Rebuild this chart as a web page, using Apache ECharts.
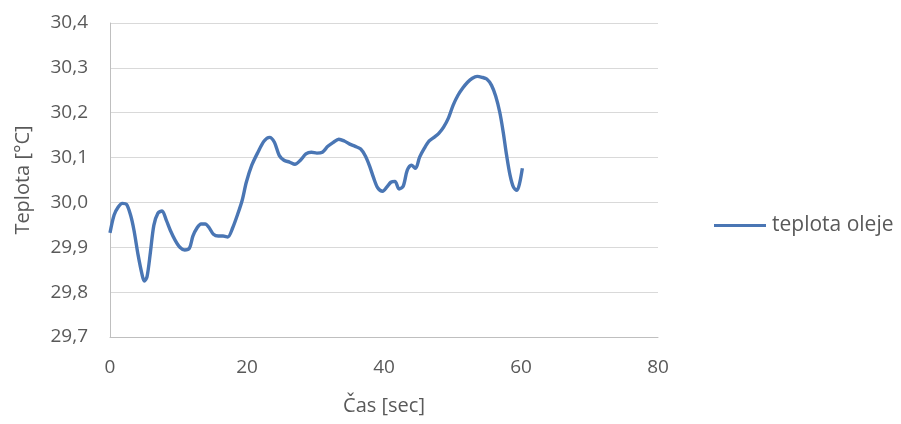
<!DOCTYPE html>
<html>
<head>
<meta charset="utf-8">
<script src="https://cdn.jsdelivr.net/npm/echarts@6/dist/echarts.min.js"></script>
<style>
html,body{margin:0;padding:0;background:#fff;}
#c{width:901px;height:424px;}
</style>
</head>
<body>
<div id="c"></div>
<script>
var timeSec = [0,0.6,1.2,1.8,2.4,3.0,3.5,4.1,4.7,5.0,5.4,5.9,6.4,7.0,7.6,8.2,8.8,9.5,10.2,10.9,11.6,12.1,12.7,13.3,13.9,14.5,15.1,15.8,16.5,17.2,17.9,18.6,19.3,19.9,20.7,21.6,22.5,23.3,24.0,24.7,25.4,26.2,27.0,27.8,28.6,29.4,30.2,31.0,31.8,32.6,33.4,34.2,35.0,35.8,36.6,37.3,37.9,38.5,39.1,39.8,40.4,41.0,41.6,42.2,42.8,43.4,44.0,44.6,45.2,45.9,46.6,47.3,48.0,48.7,49.4,50.1,50.8,51.5,52.2,52.9,53.6,54.3,55.0,55.7,56.3,56.9,57.4,57.9,58.4,58.9,59.4,59.8,60.2];
var teplotaOleje = [29.932,29.972,29.99,29.998,29.996,29.972,29.938,29.883,29.838,29.825,29.834,29.889,29.949,29.976,29.981,29.961,29.938,29.916,29.9,29.894,29.898,29.925,29.943,29.952,29.952,29.943,29.929,29.925,29.925,29.923,29.943,29.972,30.005,30.045,30.083,30.112,30.137,30.145,30.134,30.105,30.094,30.09,30.085,30.094,30.108,30.112,30.11,30.112,30.125,30.134,30.141,30.137,30.13,30.125,30.119,30.103,30.081,30.054,30.032,30.025,30.034,30.045,30.047,30.03,30.036,30.072,30.083,30.076,30.101,30.121,30.137,30.145,30.154,30.168,30.188,30.217,30.239,30.255,30.268,30.277,30.281,30.279,30.275,30.261,30.237,30.201,30.157,30.105,30.061,30.034,30.027,30.043,30.076];
var seriesName = 'teplota oleje';
var xTitle = 'Čas [sec]';
var yTitle = 'Teplota [°C]';

var pts = timeSec.map(function(t,i){return [t, teplotaOleje[i]];});
var font = 'Open Sans';
var chart = echarts.init(document.getElementById('c'), null, {renderer:'canvas'});
chart.setOption({
  animation:false,
  backgroundColor:'#ffffff',
  grid:{left:110, right:243, top:23, bottom:87, containLabel:false},
  legend:{
    left:709, top:210, icon:'rect', itemWidth:52, itemHeight:3, itemGap:0,
    textStyle:{color:'#595959', fontSize:21, fontFamily:font, padding:[0,0,0,1]},
    data:[seriesName]
  },
  xAxis:{
    type:'value', min:0, max:80, interval:20,
    name:xTitle, nameLocation:'middle', nameGap:59,
    nameTextStyle:{color:'#595959', fontSize:20, fontFamily:font},
    axisLine:{show:true, lineStyle:{color:'#bfbfbf', width:1}},
    axisTick:{show:false},
    axisLabel:{color:'#595959', fontSize:19, fontFamily:font, margin:21},
    splitLine:{show:false}
  },
  yAxis:{
    type:'value', min:29.7, max:30.4, interval:0.1,
    name:yTitle, nameLocation:'middle', nameGap:77, nameRotate:90,
    nameTextStyle:{color:'#595959', fontSize:20, fontFamily:font},
    axisLine:{show:true, lineStyle:{color:'#bfbfbf', width:1}},
    axisTick:{show:false},
    axisLabel:{color:'#595959', fontSize:19, fontFamily:font, margin:22,
      formatter:function(v){return v.toFixed(1).replace('.',',');}},
    splitLine:{show:true, lineStyle:{color:'#d9d9d9', width:1}}
  },
  series:[{
    name:seriesName, type:'line', data:pts, showSymbol:false, smooth:0.3,
    lineStyle:{color:'#4a76b4', width:3.4},
    itemStyle:{color:'#4a76b4'}
  }]
});
</script>
</body>
</html>
